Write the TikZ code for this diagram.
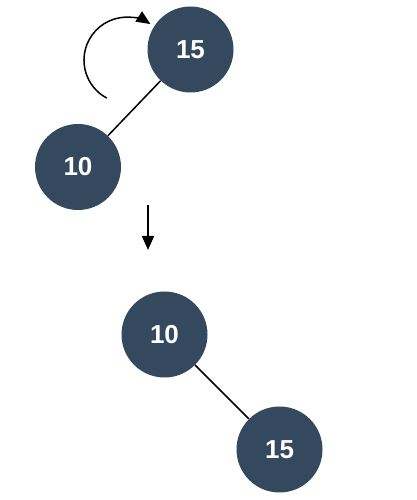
\documentclass[tikz,border=0pt]{standalone}
\usepackage{fontspec}
\setmainfont{Liberation Sans}
\usetikzlibrary{arrows.meta}
\definecolor{nodeblue}{HTML}{34495E}
\begin{document}
\begin{tikzpicture}[x=1pt,y=1pt,
  treenode/.style={circle,fill=nodeblue,draw=none,minimum size=86pt,inner sep=0pt,
    text=white,font=\fontsize{26}{29}\selectfont\bfseries},
  edge/.style={line width=1.5pt,black},
  arr/.style={line width=1.5pt,black,-{Triangle[length=14pt,width=12pt]}}]
\useasboundingbox (0,0) rectangle (416,500);
\node[treenode] (a15) at (190.5,450.5) {15};
\node[treenode] (a10) at (78,333) {10};
\node[treenode] (b10) at (164.5,165.5) {10};
\node[treenode] (b15) at (279.5,50.5) {15};
\draw[edge] (a15) -- (a10);
\draw[edge] (b10) -- (b15);
\coordinate (cstart) at (106.8,401.9);
\draw[arr] (cstart) arc[start angle=242,end angle=57,radius=43];
\coordinate (dtop) at (148,295);
\coordinate (dbot) at (148,250);
\draw[arr] (dtop) -- (dbot);
\end{tikzpicture}
\end{document}
